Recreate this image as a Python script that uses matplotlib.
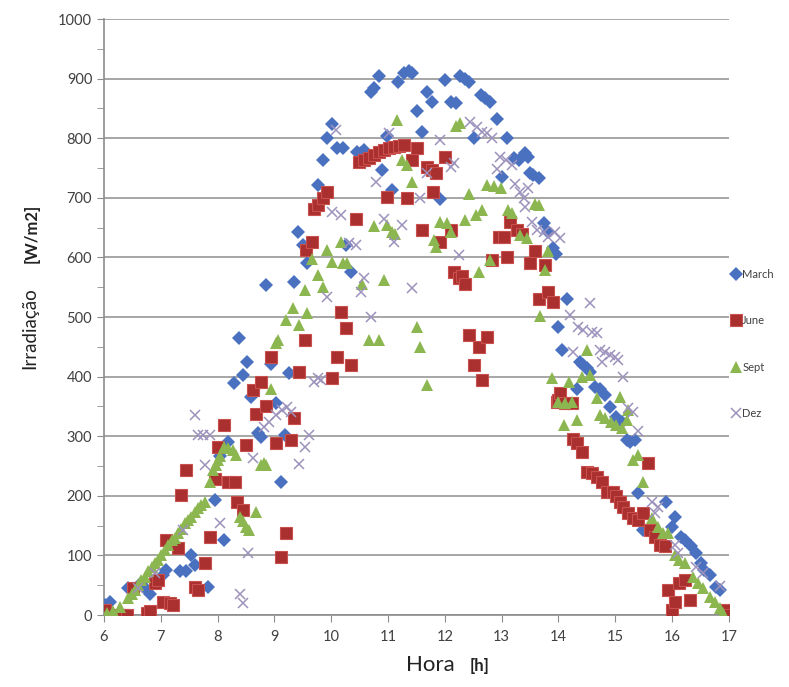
import matplotlib
matplotlib.use('Agg')
import matplotlib.pyplot as plt
from matplotlib.ticker import MultipleLocator

plt.rcParams['font.family'] = ['Lato', 'DejaVu Sans']

# March (hora, W/m2)
march_h = [6.02, 6.10, 6.42, 6.66, 6.72, 6.81, 7.04, 7.10, 7.33, 7.45, 7.54, 7.60, 7.83, 7.95, 8.04, 8.12,
           8.18, 8.28, 8.37, 8.44, 8.52, 8.59, 8.71, 8.77, 8.85, 8.94, 9.03, 9.12, 9.18, 9.26, 9.35, 9.41,
           9.50, 9.58, 9.76, 9.85, 9.93, 10.02, 10.11, 10.20, 10.26, 10.35, 10.46, 10.52, 10.58, 10.70,
           10.75, 10.84, 10.90, 10.99, 11.07, 11.18, 11.28, 11.37, 11.42, 11.51, 11.60, 11.69, 11.78,
           11.92, 12.01, 12.10, 12.19, 12.27, 12.36, 12.42, 12.51, 12.63, 12.71, 12.80, 12.92, 13.00,
           13.09, 13.21, 13.30, 13.41, 13.47, 13.50, 13.56, 13.65, 13.74, 13.82, 13.91, 13.96, 14.00,
           14.06, 14.15, 14.32, 14.38, 14.44, 14.50, 14.55, 14.64, 14.73, 14.82, 14.90, 15.02, 15.11,
           15.20, 15.26, 15.34, 15.40, 15.49, 15.90, 15.99, 16.05, 16.16, 16.22, 16.34, 16.43, 16.51,
           16.57, 16.66, 16.78, 16.84, 16.96]
march_w = [17, 22, 45, 53, 45, 36, 67, 76, 73, 73, 101, 84, 47, 193, 266, 126,
           291, 389, 464, 403, 425, 366, 305, 299, 554, 422, 355, 224, 302, 406, 559, 643,
           621, 590, 721, 763, 800, 824, 783, 783, 621, 576, 777, 775, 780, 878,
           884, 905, 747, 804, 713, 895, 909, 912, 910, 845, 811, 878, 860,
           698, 897, 861, 859, 904, 899, 895, 800, 872, 867, 861, 833, 735,
           800, 766, 763, 775, 769, 741, 738, 733, 657, 643, 615, 605, 484,
           445, 531, 380, 425, 419, 414, 408, 383, 380, 369, 349, 333, 324,
           294, 291, 294, 204, 143, 190, 148, 165, 131, 126, 115, 104, 87,
           76, 67, 47, 42, 6]

# June
june_h = [6.02, 6.28, 6.34, 6.40, 6.51, 6.75, 6.81, 6.89, 6.95, 7.04, 7.10, 7.16, 7.22, 7.30, 7.36, 7.45,
          7.60, 7.66, 7.77, 7.86, 7.95, 8.01, 8.12, 8.18, 8.30, 8.35, 8.44, 8.50, 8.62, 8.68, 8.77, 8.85,
          8.94, 9.03, 9.12, 9.20, 9.29, 9.35, 9.44, 9.53, 9.56, 9.67, 9.70, 9.76, 9.85, 9.93, 10.02,
          10.11, 10.17, 10.26, 10.34, 10.43, 10.49, 10.58, 10.67, 10.75, 10.84, 10.93, 10.99, 11.02,
          11.11, 11.19, 11.28, 11.34, 11.43, 11.51, 11.60, 11.69, 11.78, 11.80, 11.84, 11.92, 12.01,
          12.10, 12.17, 12.25, 12.31, 12.36, 12.42, 12.51, 12.60, 12.65, 12.74, 12.83, 12.95, 13.04,
          13.09, 13.15, 13.27, 13.36, 13.50, 13.59, 13.65, 13.76, 13.82, 13.91, 13.97, 14.00, 14.03,
          14.12, 14.23, 14.26, 14.32, 14.41, 14.50, 14.59, 14.67, 14.76, 14.85, 14.96, 15.02, 15.08,
          15.14, 15.23, 15.32, 15.40, 15.49, 15.58, 15.61, 15.70, 15.79, 15.87, 15.93, 15.99, 16.05,
          16.13, 16.22, 16.31, 16.95, 17.00]
june_w = [8, 0, 0, 0, 45, 3, 6, 53, 59, 22, 126, 20, 17, 112, 201, 243,
          47, 42, 87, 131, 229, 282, 319, 224, 224, 190, 176, 285, 378, 338, 391, 350,
          433, 288, 98, 137, 294, 330, 408, 461, 612, 626, 682, 688, 699, 710, 397,
          433, 509, 481, 419, 665, 760, 763, 766, 772, 777, 780, 702, 783,
          786, 787, 789, 699, 763, 783, 646, 752, 747, 710, 741, 626, 769,
          646, 575, 565, 568, 556, 470, 419, 450, 394, 467, 596, 635, 635,
          601, 660, 646, 640, 590, 610, 531, 587, 542, 526, 358, 361, 372,
          355, 355, 296, 288, 274, 240, 238, 232, 224, 207, 207, 199, 190,
          182, 171, 162, 159, 171, 255, 143, 131, 117, 115, 42, 8, 22,
          53, 59, 25, 8, 0]

# Sept
sept_h = [6.05, 6.16, 6.28, 6.43, 6.49, 6.54, 6.60, 6.66, 6.72, 6.78, 6.84, 6.89, 6.95, 7.01, 7.07, 7.13,
          7.19, 7.25, 7.30, 7.36, 7.42, 7.48, 7.54, 7.60, 7.65, 7.71, 7.77, 7.86, 7.92, 7.98, 8.01, 8.04,
          8.12, 8.18, 8.27, 8.33, 8.39, 8.44, 8.50, 8.56, 8.68, 8.77, 8.82, 8.85, 8.94, 9.03, 9.06,
          9.20, 9.32, 9.44, 9.53, 9.58, 9.67, 9.76, 9.85, 9.93, 10.02, 10.17, 10.20, 10.28, 10.55,
          10.67, 10.75, 10.84, 10.93, 10.99, 11.07, 11.13, 11.16, 11.25, 11.34, 11.43, 11.51, 11.57,
          11.69, 11.81, 11.84, 11.92, 12.04, 12.10, 12.19, 12.27, 12.36, 12.42, 12.54, 12.60, 12.65,
          12.74, 12.80, 12.86, 12.98, 13.12, 13.18, 13.33, 13.44, 13.59, 13.65, 13.67, 13.76, 13.82,
          13.88, 14.00, 14.09, 14.12, 14.18, 14.23, 14.32, 14.41, 14.50, 14.55, 14.67, 14.73, 14.82,
          14.93, 15.02, 15.08, 15.11, 15.20, 15.23, 15.32, 15.40, 15.49, 15.64, 15.75, 15.84, 15.93,
          16.05, 16.13, 16.22, 16.37, 16.46, 16.55, 16.66, 16.75, 16.84, 16.90]
sept_w = [3, 6, 14, 28, 36, 42, 50, 59, 64, 73, 81, 87, 92, 101, 109, 117,
          126, 129, 137, 145, 154, 159, 165, 173, 179, 185, 190, 224, 243, 252, 260, 266,
          282, 280, 277, 268, 165, 157, 148, 143, 173, 252, 255, 252, 380, 456, 461,
          495, 515, 487, 545, 506, 598, 570, 551, 612, 593, 626, 590, 590, 556,
          461, 652, 461, 562, 654, 643, 640, 830, 763, 755, 727, 484, 450,
          386, 629, 618, 660, 657, 643, 820, 825, 663, 707, 671, 576, 680,
          721, 596, 719, 716, 680, 674, 638, 632, 690, 688, 501, 579, 610,
          397, 358, 319, 355, 391, 358, 327, 400, 445, 403, 364, 336, 330,
          324, 319, 366, 313, 327, 344, 260, 268, 224, 162, 148, 137, 137,
          101, 92, 87, 64, 53, 45, 31, 22, 11, 3]

# Dez
dez_h = [6.60, 6.90, 7.39, 7.60, 7.65, 7.74, 7.77, 7.86, 8.04, 8.39, 8.44, 8.53, 8.62, 8.82, 8.91, 9.03,
         9.14, 9.23, 9.29, 9.44, 9.53, 9.61, 9.70, 9.76, 9.82, 9.93, 10.02, 10.08, 10.17, 10.32, 10.43,
         10.52, 10.58, 10.70, 10.78, 10.93, 11.02, 11.10, 11.25, 11.43, 11.57, 11.69, 11.92, 12.10,
         12.16, 12.25, 12.45, 12.57, 12.65, 12.74, 12.83, 12.92, 12.97, 13.07, 13.18, 13.24, 13.33,
         13.39, 13.41, 13.47, 13.53, 13.62, 13.74, 13.82, 13.94, 14.03, 14.20, 14.26, 14.35, 14.44,
         14.55, 14.59, 14.67, 14.73, 14.76, 14.82, 14.90, 14.99, 15.05, 15.14, 15.23, 15.32, 15.40,
         15.64, 15.70, 15.75, 16.05, 16.11, 16.43, 16.55, 16.84]
dez_w = [45, 70, 143, 336, 302, 302, 252, 302, 154, 36, 20, 104, 263, 316, 324, 336,
         344, 349, 341, 254, 282, 302, 391, 397, 394, 534, 677, 814, 671, 624, 621,
         542, 565, 500, 727, 665, 808, 626, 654, 548, 699, 741, 797, 752,
         758, 604, 828, 819, 811, 808, 800, 749, 769, 763, 755, 724, 710,
         699, 685, 716, 660, 646, 643, 635, 643, 632, 503, 442, 484, 478,
         523, 475, 473, 445, 425, 442, 436, 433, 428, 400, 347, 341, 308,
         190, 171, 182, 117, 104, 81, 70, 48]

fig = plt.figure(figsize=(7.89, 6.87), dpi=100)
ax = fig.add_axes([0.1318, 0.1048, 0.792, 0.8675])

ax.plot(march_h, march_w, 'D', color='#4A70C0', markersize=6.8, markeredgewidth=0, label='March', zorder=3)
ax.plot(june_h, june_w, 's', color='#A9302E', markeredgecolor='#C9504C', markersize=8, markeredgewidth=0.8, label='June', zorder=4)
ax.plot(sept_h, sept_w, '^', color='#8CB650', markersize=8, markeredgewidth=0, label='Sept', zorder=5)
ax.plot(dez_h, dez_w, 'x', color='#9C92BC', markersize=7, markeredgewidth=1.1, label='Dez', zorder=6)

ax.set_xlim(6, 17)
ax.set_ylim(0, 1000)
ax.xaxis.set_major_locator(MultipleLocator(1))
ax.yaxis.set_major_locator(MultipleLocator(100))
ax.yaxis.set_minor_locator(MultipleLocator(50))
ax.grid(axis='y', which='major', color='#A6A6A6', linewidth=1.4)
ax.set_axisbelow(True)
for s in ['top', 'right']:
    ax.spines[s].set_visible(False)
for s in ['left', 'bottom']:
    ax.spines[s].set_color('#8C8C8C')
    ax.spines[s].set_linewidth(1.2)
ax.tick_params(axis='both', which='both', direction='out', color='#8C8C8C', labelcolor='#404040', labelsize=10.5)
ax.tick_params(axis='y', which='both', length=5)
ax.tick_params(axis='x', length=5, pad=6)

# eixos com partes em negrito
fig.text(0.038, 0.522, 'Irradiação', rotation=90, ha='center', va='center', fontsize=13.5, color='#222222')
fig.text(0.040, 0.660, '[W/m2]', rotation=90, ha='center', va='center', fontsize=12, fontweight='bold', color='#222222')
fig.text(0.545, 0.032, 'Hora', ha='center', va='center', fontsize=16, color='#222222')
fig.text(0.608, 0.030, '[h]', ha='center', va='center', fontsize=12, fontweight='bold', color='#222222')

ax.legend(loc='center left', bbox_to_anchor=(0.995, 0.455), frameon=False, fontsize=8,
          labelspacing=3.2, handletextpad=0.1, handlelength=1.0, borderaxespad=0, labelcolor='#404040')

fig.savefig('out.png', dpi=100)
